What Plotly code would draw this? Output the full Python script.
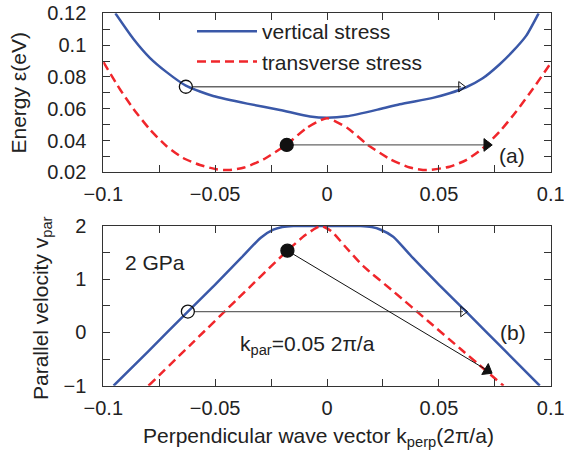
import math
import plotly.graph_objects as go

# ---------------- data ----------------
# (a) energy vs perpendicular wave vector
k_vert_top = [-0.0946, -0.0866, -0.0792, -0.0717, -0.0631, -0.0568, -0.0509, -0.0357, -0.0210,
              -0.0076, 0.0000, 0.0088, 0.0237, 0.0325, 0.0473, 0.0548, 0.0622, 0.0696, 0.0771,
              0.0830, 0.0890, 0.0946]
E_vert_top = [0.1200, 0.1040, 0.0920, 0.0830, 0.0745, 0.0708, 0.0680, 0.0632, 0.0592,
              0.0551, 0.0543, 0.0552, 0.0598, 0.0628, 0.0668, 0.0697, 0.0735, 0.0791, 0.0878,
              0.0960, 0.1058, 0.1200]

k_trans_top = [-0.1000, -0.0925, -0.0866, -0.0792, -0.0717, -0.0643, -0.0568, -0.0494, -0.0440,
               -0.0370, -0.0284, -0.0180, -0.0091, 0.0000, 0.0091, 0.0180, 0.0284, 0.0370,
               0.0444, 0.0548, 0.0622, 0.0696, 0.0771, 0.0845, 0.0920, 0.1000]
E_trans_top = [0.0894, 0.0721, 0.0600, 0.0470, 0.0364, 0.0290, 0.0246, 0.0219, 0.0214,
               0.0230, 0.0281, 0.0375, 0.0479, 0.0540, 0.0479, 0.0375, 0.0281, 0.0230,
               0.0214, 0.0235, 0.0277, 0.0351, 0.0455, 0.0581, 0.0724, 0.0886]

# (b) parallel velocity vs perpendicular wave vector
k_vert_bot = [-0.0954, -0.0800, -0.0622, -0.0500, -0.0384, -0.0296, -0.0240, -0.0200, -0.0150,
              0.0000, 0.0150, 0.0200, 0.0240, 0.0296, 0.0384, 0.0500, 0.0622, 0.0800, 0.0951]
v_vert_bot = [-1.00, -0.36, 0.393, 0.90, 1.40, 1.78, 1.93, 1.98, 2.00,
              2.00, 2.00, 1.98, 1.93, 1.80, 1.40, 0.90, 0.39, -0.36, -1.00]

k_trans_bot = [-0.0798, -0.0600, -0.0400, -0.0177, -0.0100, -0.0050, -0.0025, 0.0020, 0.0080,
               0.0161, 0.0300, 0.0450, 0.0600, 0.0789]
v_trans_bot = [-1.00, -0.19, 0.63, 1.537, 1.82, 1.96, 2.00, 1.90, 1.62,
               1.25, 0.76, 0.22, -0.32, -1.00]

# transition arrows: start point (circle) and end point (arrow head)
arrow_top_open = {"k": [-0.0631, 0.0599], "E": [0.0738, 0.0738]}
arrow_top_fill = {"k": [-0.0180, 0.0714], "E": [0.0372, 0.0372]}
arrow_bot_open = {"k": [-0.0622, 0.0608], "v": [0.393, 0.393]}
arrow_bot_fill = {"k": [-0.0177, 0.0717], "v": [1.537, -0.713]}

legend_names = ["vertical stress", "transverse stress"]
x_ticks = [-0.1, -0.05, 0, 0.05, 0.1]
x_tick_text = ["−0.1", "−0.05", "0", "0.05", "0.1"]
yt_ticks = [0.02, 0.04, 0.06, 0.08, 0.1, 0.12]
yt_tick_text = ["0.02", "0.04", "0.06", "0.08", "0.1", "0.12"]
yb_ticks = [-1, 0, 1, 2]
yb_tick_text = ["−1", "0", "1", "2"]

# ---------------- layout geometry ----------------
W, H = 564, 456
X_DOM = [103.3 / W, 550.7 / W]
Y_DOM_TOP = [1 - 172.3 / H, 1 - 13.3 / H]
Y_DOM_BOT = [1 - 385.7 / H, 1 - 226.0 / H]
X_RANGE = [-0.1, 0.1]
YT_RANGE = [0.02, 0.12]
YB_RANGE = [-1, 2]
px_per_k = (X_DOM[1] - X_DOM[0]) * W / (X_RANGE[1] - X_RANGE[0])
px_per_v = (Y_DOM_BOT[1] - Y_DOM_BOT[0]) * H / (YB_RANGE[1] - YB_RANGE[0])

BLUE = "#3a58a8"
RED = "#f0262b"
DARK = "#222222"
FONT = "Liberation Sans, Arial, Helvetica, sans-serif"

CIRCLE_SIZE = 13
circle_gap = (CIRCLE_SIZE / 2) / px_per_k  # start lines at the open circle's edge

fig = go.Figure()


def add_curve(k, y, color, dash, name, xa, ya, showlegend):
    fig.add_trace(go.Scatter(
        x=k, y=y, mode="lines", name=name, xaxis=xa, yaxis=ya, showlegend=showlegend,
        line=dict(color=color, width=2.5, dash=dash, shape="spline", smoothing=0.6),
        hoverinfo="skip", cliponaxis=True))


def add_arrow(k, y, xa, ya, filled, color, width, angle=0.0):
    ks = list(k)
    if not filled:
        ks[0] = ks[0] + circle_gap
    fig.add_trace(go.Scatter(
        x=ks, y=y, mode="lines", xaxis=xa, yaxis=ya, showlegend=False, hoverinfo="skip",
        line=dict(color=color, width=width)))
    fig.add_trace(go.Scatter(
        x=[k[1]], y=[y[1]], mode="markers", xaxis=xa, yaxis=ya, showlegend=False, hoverinfo="skip",
        marker=dict(symbol="triangle-right" if filled else "triangle-right-open",
                    size=11 if filled else 9, angle=angle, color="#111111",
                    line=dict(color="#111111", width=1))))
    fig.add_trace(go.Scatter(
        x=[k[0]], y=[y[0]], mode="markers", xaxis=xa, yaxis=ya, showlegend=False, hoverinfo="skip",
        marker=dict(symbol="circle" if filled else "circle-open", size=CIRCLE_SIZE,
                    color="#111111", line=dict(color="#111111", width=1.3))))


# panel (a)
add_curve(k_vert_top, E_vert_top, BLUE, "solid", legend_names[0], "x", "y", True)
add_curve(k_trans_top, E_trans_top, RED, "9px,5px", legend_names[1], "x", "y", True)
add_arrow(arrow_top_open["k"], arrow_top_open["E"], "x", "y", False, "#666666", 1.3)
add_arrow(arrow_top_fill["k"], arrow_top_fill["E"], "x", "y", True, "#666666", 1.3)

# panel (b)
add_curve(k_vert_bot, v_vert_bot, BLUE, "solid", legend_names[0], "x2", "y2", False)
add_curve(k_trans_bot, v_trans_bot, RED, "9px,5px", legend_names[1], "x2", "y2", False)
add_arrow(arrow_bot_open["k"], arrow_bot_open["v"], "x2", "y2", False, "#666666", 1.3)
dxp = (arrow_bot_fill["k"][1] - arrow_bot_fill["k"][0]) * px_per_k
dyp = (arrow_bot_fill["v"][0] - arrow_bot_fill["v"][1]) * px_per_v
add_arrow(arrow_bot_fill["k"], arrow_bot_fill["v"], "x2", "y2", True, "#111111", 1.0,
          angle=math.degrees(math.atan2(dyp, dxp)))

axis_common = dict(
    showline=True, linecolor="#333333", linewidth=1, mirror="ticks",
    ticks="inside", ticklen=7, tickwidth=1, tickcolor="#333333",
    showgrid=False, zeroline=False, automargin=False, ticklabeloverflow="allow",
    tickfont=dict(family=FONT, size=20, color=DARK),
)
minor_common = dict(ticks="inside", ticklen=7, tickwidth=1, tickcolor="#333333", showgrid=False)

fig.update_layout(
    width=W, height=H,
    margin=dict(l=0, r=0, t=0, b=0, autoexpand=False),
    paper_bgcolor="white", plot_bgcolor="white",
    font=dict(family=FONT, size=21, color=DARK),
    xaxis=dict(domain=X_DOM, range=X_RANGE, anchor="y", tickmode="array",
               tickvals=x_ticks, ticktext=x_tick_text,
               minor=dict(tickmode="linear", tick0=0, dtick=0.025, **minor_common),
               ticklabelstandoff=4, **axis_common),
    yaxis=dict(domain=Y_DOM_TOP, range=YT_RANGE, anchor="x", tickmode="array",
               tickvals=yt_ticks, ticktext=yt_tick_text,
               minor=dict(tickmode="linear", tick0=0, dtick=0.01, **minor_common),
               ticklabelstandoff=12, **axis_common),
    xaxis2=dict(domain=X_DOM, range=X_RANGE, anchor="y2", tickmode="array",
                tickvals=x_ticks, ticktext=x_tick_text,
                minor=dict(tickmode="linear", tick0=0, dtick=0.025, **minor_common),
                ticklabelstandoff=4, **axis_common),
    yaxis2=dict(domain=Y_DOM_BOT, range=YB_RANGE, anchor="x2", tickmode="array",
                tickvals=yb_ticks, ticktext=yb_tick_text,
                minor=dict(tickmode="linear", tick0=0, dtick=0.5, **minor_common),
                ticklabelstandoff=12, **axis_common),
    legend=dict(x=192 / W, y=1 - 11 / H, xanchor="left", yanchor="top",
                bgcolor="rgba(0,0,0,0)", font=dict(family=FONT, size=21, color=DARK),
                itemwidth=60, tracegroupgap=0),
    showlegend=True,
)

annotations = [
    dict(text="Energy ε(eV)", xref="paper", yref="paper", x=17.5 / W, y=1 - 93 / H,
         textangle=-90, showarrow=False, xanchor="center", yanchor="middle"),
    dict(text="Parallel velocity v<sub>par</sub>", xref="paper", yref="paper", x=42 / W,
         y=1 - 308 / H, textangle=-90, showarrow=False, xanchor="center", yanchor="middle"),
    dict(text="Perpendicular wave vector k<sub>perp</sub>(2π/a)", xref="paper", yref="paper",
         x=318.5 / W, y=1 - 437 / H, showarrow=False, xanchor="center", yanchor="middle"),
    dict(text="(a)", xref="x", yref="y", x=0.0829, y=0.0303, showarrow=False,
         xanchor="center", yanchor="middle"),
    dict(text="(b)", xref="x2", yref="y2", x=0.0833, y=-0.006, showarrow=False,
         xanchor="center", yanchor="middle"),
    dict(text="2 GPa", xref="x2", yref="y2", x=-0.0769, y=1.306, showarrow=False,
         xanchor="center", yanchor="middle"),
    dict(text="k<sub>par</sub>=0.05 2π/a", xref="x2", yref="y2", x=-0.0399, y=-0.23,
         showarrow=False, xanchor="left", yanchor="middle"),
]
fig.update_layout(annotations=annotations)

fig.write_html(
    "out.html",
    config={"displayModeBar": False},
    post_script="document.body.style.margin='0';document.body.style.overflow='hidden';",
)
